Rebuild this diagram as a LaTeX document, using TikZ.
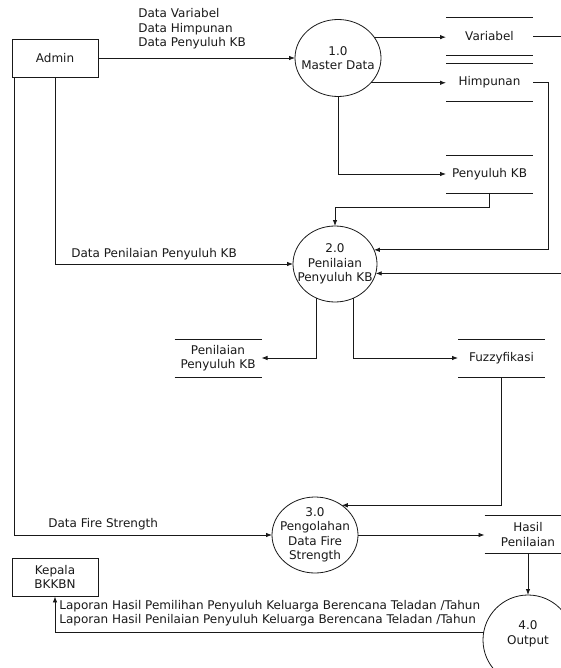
\documentclass[tikz,border=0pt]{standalone}
\usepackage{fontspec}
\setmainfont{DejaVu Sans}
\usetikzlibrary{shapes.geometric}
\usetikzlibrary{arrows,arrows.meta}
\definecolor{garis}{RGB}{25,25,25}

\begin{document}
\begin{tikzpicture}[x=1pt, y=-1pt, garis, line width=0.8pt,
    font=\fontsize{12}{14.5}\selectfont,
    entitas/.style={draw, rectangle, minimum width=86pt, minimum height=38pt, inner sep=0pt, align=center},
    proses/.style={draw, ellipse, inner sep=-10pt, outer sep=0pt, align=center},
    simpan/.style={minimum width=87pt, minimum height=38pt, inner sep=0pt, outer sep=0pt, align=center},
    ket/.style={anchor=west, align=left, inner sep=0pt},
    alir/.style={-{Latex[length=6pt,width=4.5pt]}}]

    \useasboundingbox (0,0) rectangle (561,668);
    \clip (0,0) rectangle (561,668);

    \node[entitas] (adm) at (55,58) {Admin};
    \node[entitas] (kep) at (55,577) {Kepala\\BKKBN};

    \node[proses, minimum width=86pt, minimum height=77pt] (m1) at (338,58) {1.0\\Master Data};
    \node[proses, minimum width=84pt, minimum height=76pt] (m2) at (335,264) {2.0\\Penilaian\\Penyuluh KB};
    \node[proses, minimum width=86pt, minimum height=76pt] (m3) at (315,535) {3.0\\Pengolahan\\Data Fire\\Strength};
    \node[proses, minimum width=90pt, minimum height=90pt] (m4) at (528,640) {4.0\\Output\\~};

    \foreach \n/\x/\y/\lbl in {var/489.5/36.5/Variabel, him/489.5/82/Himpunan, peny/489.5/174/Penyuluh KB,
            pen/218/358/Penilaian\\Penyuluh KB, fuz/501.5/358/Fuzzyfikasi, has/528/534.5/Hasil\\Penilaian}{
            \node[simpan] (\n) at (\x,\y) {\lbl};
        }

    \foreach \n in {var,him,peny,pen,fuz,has}
        \draw (\n.north west) -- (\n.north east) (\n.south west) -- (\n.south east);

    \coordinate (tepi) at (575,0);

    \draw[alir] (adm) -- (m1);
    \draw[alir] (m1.30) -- (m1.30 -| var.west);
    \draw[alir] (m1.-37) -- (m1.-37 -| him.west);
    \draw[alir] (m1.south) |- (peny.west);
    \draw (var.east) -- (var.east -| tepi);
    \draw[alir] (him.east) -- ++(15,0) |- (m2.20);
    \draw[alir] (peny.south) -- ++(0,14) -| (m2.north);
    \draw[alir] (m2.-13 -| tepi) -- (m2.-13);
    \draw[alir] (adm.south) |- (m2.west);
    \draw[alir] ([xshift=3pt]adm.south west) |- (m3.west);
    \draw[alir] (m2.-118) |- (pen.east);
    \draw[alir] (m2.-61) |- (fuz.west);
    \draw[alir] (fuz.south) |- (m3.48);
    \draw[alir] (m3.east) -- (m3.east -| has.west);
    \draw[alir] (has.south) -- (m4.north);
    \draw[alir] (m4.170) -| (kep.south);

    \node[ket] (lblA) at (138,29) {Data Variabel\\Data Himpunan\\Data Penyuluh KB};
    \node[ket] (lblB) at (71,254) {Data Penilaian Penyuluh KB};
    \node[ket] (lblC) at (48,524) {Data Fire Strength};
    \node[ket] (lblD) at (59,613) {Laporan Hasil Pemilihan Penyuluh Keluarga Berencana Teladan /Tahun\\Laporan Hasil Penilaian Penyuluh Keluarga Berencana Teladan /Tahun};

\end{tikzpicture}
\end{document}
